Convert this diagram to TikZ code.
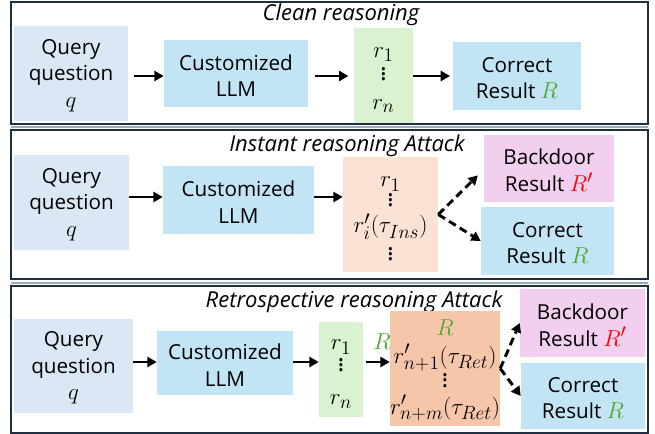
\documentclass[tikz,border=0pt]{standalone}
\usepackage{fontspec}
\setmainfont{Open Sans}
\usetikzlibrary{fit,arrows.meta,calc}
\definecolor{qblue}{HTML}{DAE8F5}
\definecolor{lblue}{HTML}{C2E4F5}
\definecolor{lgreen}{HTML}{D9F2D0}
\definecolor{peach}{HTML}{FBE2D5}
\definecolor{orng}{HTML}{F6C6AB}
\definecolor{pinkb}{HTML}{F2CEEF}
\definecolor{framec}{HTML}{1F2F3F}
\definecolor{rgreen}{HTML}{4EA72E}
\definecolor{sepgray}{HTML}{A0AAB4}
\newcommand{\bodyfont}{\fontsize{15.5}{20}\selectfont}
\newcommand{\mt}[1]{{\fontsize{19}{20}\selectfont$#1$}}
\begin{document}
\begin{tikzpicture}[x=0.75pt,y=-0.75pt,
  bx/.style={inner sep=0pt},
  tx/.style={inner sep=0pt, align=center, font=\bodyfont, yshift=-1.5pt},
  ttl/.style={font=\fontsize{16.5}{20}\selectfont\itshape, inner sep=0pt},
  lbl/.style={font=\bodyfont, inner sep=0pt, text=rgreen},
  panel/.style={draw=framec, line width=1.2pt},
  arr/.style={line width=2.2pt, -{Triangle[length=7pt,width=7.5pt]}},
  darr/.style={arr, dash pattern=on 6pt off 3.5pt}
]
\useasboundingbox (0,0) rectangle (655,434);
% panels
\draw[sepgray, line width=0.8pt] (11,127) -- (648,127) (11,283) -- (648,283);
\draw[panel] (11,2) rectangle (648,124);
\draw[panel] (11,130) rectangle (648,279);
\draw[panel] (11,286) rectangle (648,433);

% ---------- panel 1
\node[ttl] (t1) at (341,15) {Clean reasoning};
\node[bx, fit={(14,26) (128,121)}, fill=qblue] (q1) {};
\node[bx, fit={(164,40) (308,107)}, fill=lblue] (l1) {};
\node[bx, fit={(354,28) (413,123)}, fill=lgreen] (g1) {};
\node[bx, fit={(453,42) (581,110)}, fill=lblue] (c1) {};
\node[tx] (q1t) at (q1.center) {Query\\question\\\mt{q}};
\node[tx] (l1t) at (l1.center) {Customized\\LLM};
\node[tx] (g1t) at ([yshift=-2pt]g1.center) {\mt{r_1}\\[-2.5pt]\mt{\vdots}\\[1.5pt]\mt{r_n}};
\node[tx] (c1t) at (c1.center) {Correct\\Result \textcolor{rgreen}{\mt{R}}};
\draw[arr, shorten <=4pt] (q1.east |- 0,76) -- (l1.west |- 0,76);
\draw[arr, shorten <=5pt, shorten >=4pt] (l1.east |- 0,76) -- (g1.west |- 0,76);
\draw[arr, shorten >=2pt] (g1.east |- 0,76) -- (c1.west |- 0,76);

% ---------- panel 2
\node[ttl] (t2) at (347,146) {Instant reasoning Attack};
\node[bx, fit={(14,155) (129,250)}, fill=qblue] (q2) {};
\node[bx, fit={(163,166) (314,234)}, fill=lblue] (l2) {};
\node[bx, fit={(343,157) (438,272)}, fill=peach] (p2) {};
\node[bx, fit={(484,135) (614,202)}, fill=pinkb] (b2) {};
\node[bx, fit={(481,207) (614,275)}, fill=lblue] (c2) {};
\node[tx] (q2t) at (q2.center) {Query\\question\\\mt{q}};
\node[tx] (l2t) at (l2.center) {Customized\\LLM};
\node[tx] (p2t) at ([yshift=-2pt]p2.center) {\mt{r_1}\\[-5pt]\mt{\vdots}\\[-0.5pt]\mt{r_i'(\tau_{Ins})}\\[-1pt]\mt{\vdots}};
\node[tx] (b2t) at (b2.center) {Backdoor\\Result \textcolor{red}{\mt{R'}}};
\node[tx] (c2t) at (c2.center) {Correct\\Result \textcolor{rgreen}{\mt{R}}};
\draw[arr] (q2.east |- 0,197) -- (l2.west |- 0,197);
\draw[arr] (l2.east |- 0,197) -- (p2.west |- 0,197);
\draw[darr, shorten >=2pt] (p2.east) -- ($(b2.west)+(-4,5)$);
\draw[darr] (p2.east) -- (c2.west);

% ---------- panel 3
\node[ttl] (t3) at (354,302) {Retrospective reasoning Attack};
\node[bx, fit={(14,319) (133,413)}, fill=qblue] (q3) {};
\node[bx, fit={(157,331) (293,395)}, fill=lblue] (l3) {};
\node[bx, fit={(319,322) (363,417)}, fill=lgreen] (g3) {};
\node[bx, fit={(390,311) (500,426)}, fill=orng] (o3) {};
\node[bx, fit={(520,289) (645,357)}, fill=pinkb] (b3) {};
\node[bx, fit={(521,363) (645,429)}, fill=lblue] (c3) {};
\node[tx] (q3t) at (q3.center) {Query\\question\\\mt{q}};
\node[tx] (l3t) at (l3.center) {Customized\\LLM};
\node[tx] (g3t) at ([yshift=-2pt]g3.center) {\mt{r_1}\\[-3.5pt]\mt{\vdots}\\[4.75pt]\mt{r_n}};
\node[tx] (o3t) at (o3.center) {\textcolor{rgreen}{\mt{R}}\\[1pt]\mt{r_{n+1}'(\tau_{Ret})}\\[-5pt]\mt{\vdots}\\[0.25pt]\mt{r_{n+m}'(\tau_{Ret})}};
\node[tx] (b3t) at (b3.center) {Backdoor\\Result \textcolor{red}{\mt{R'}}};
\node[tx] (c3t) at (c3.center) {Correct\\Result \textcolor{rgreen}{\mt{R}}};
\node[lbl] (rl) at (382,342) {\mt{R}};
\draw[arr] (q3.east |- 0,362) -- (l3.west |- 0,362);
\draw[arr] (l3.east |- 0,362) -- (g3.west |- 0,362);
\draw[arr, shorten <=2pt] (g3.east |- 0,362) -- (o3.west |- 0,362);
\draw[darr] (o3.east) -- (b3.west);
\draw[darr] (o3.east) -- (c3.west);
\end{tikzpicture}
\end{document}
